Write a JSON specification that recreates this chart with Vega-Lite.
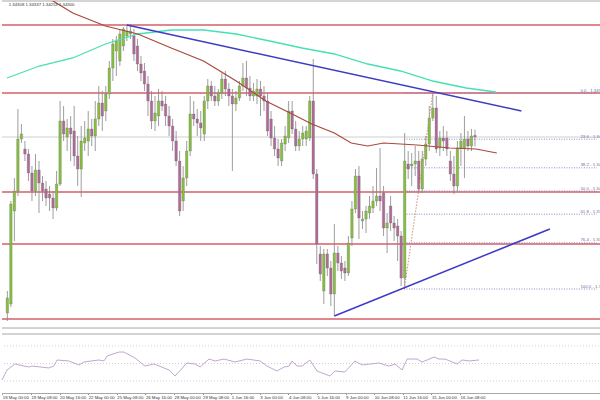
{
"$schema": "https://vega.github.io/schema/vega-lite/v6.json",
"padding": 0,
"spacing": 4,
"background": "white",
"config": {"view": {"stroke": null}, "font": "Liberation Sans"},
"datasets": {
"candles": [
{"i":0,"o":1.3342,"h":1.3353,"l":1.3338,"c":1.33495},
{"i":1,"o":1.33465,"h":1.3398,"l":1.3345,"c":1.33965},
{"i":2,"o":1.3393,"h":1.34095,"l":1.3378,"c":1.3403},
{"i":3,"o":1.3403,"h":1.3444,"l":1.34005,"c":1.3429},
{"i":4,"o":1.3429,"h":1.34365,"l":1.3427,"c":1.34315},
{"i":5,"o":1.3424,"h":1.3428,"l":1.3418,"c":1.34215},
{"i":6,"o":1.34215,"h":1.3424,"l":1.3408,"c":1.3412},
{"i":7,"o":1.3412,"h":1.34155,"l":1.3398,"c":1.3403},
{"i":8,"o":1.3403,"h":1.34215,"l":1.34005,"c":1.34135},
{"i":9,"o":1.34135,"h":1.3418,"l":1.3392,"c":1.3407},
{"i":10,"o":1.3407,"h":1.34105,"l":1.3398,"c":1.3403},
{"i":11,"o":1.3404,"h":1.3408,"l":1.33955,"c":1.33995},
{"i":12,"o":1.34015,"h":1.34055,"l":1.3393,"c":1.33995},
{"i":13,"o":1.33995,"h":1.3403,"l":1.3389,"c":1.33945},
{"i":14,"o":1.33945,"h":1.3413,"l":1.3393,"c":1.34065},
{"i":15,"o":1.34065,"h":1.3448,"l":1.34055,"c":1.3438},
{"i":16,"o":1.3438,"h":1.34455,"l":1.3428,"c":1.34315},
{"i":17,"o":1.343,"h":1.3439,"l":1.3423,"c":1.34345},
{"i":18,"o":1.34345,"h":1.34405,"l":1.3418,"c":1.34315},
{"i":19,"o":1.3433,"h":1.34455,"l":1.34155,"c":1.34205},
{"i":20,"o":1.34205,"h":1.34305,"l":1.34055,"c":1.3414},
{"i":21,"o":1.3414,"h":1.34355,"l":1.34,"c":1.3428},
{"i":22,"o":1.3427,"h":1.3438,"l":1.3423,"c":1.34295},
{"i":23,"o":1.3428,"h":1.3443,"l":1.34205,"c":1.3434},
{"i":24,"o":1.3434,"h":1.3439,"l":1.34255,"c":1.34305},
{"i":25,"o":1.34305,"h":1.3448,"l":1.3423,"c":1.3439},
{"i":26,"o":1.3439,"h":1.34555,"l":1.34355,"c":1.3447},
{"i":27,"o":1.3447,"h":1.3453,"l":1.3433,"c":1.34405},
{"i":28,"o":1.3443,"h":1.34555,"l":1.3438,"c":1.34515},
{"i":29,"o":1.34515,"h":1.3468,"l":1.3449,"c":1.34645},
{"i":30,"o":1.34645,"h":1.3479,"l":1.3458,"c":1.34765},
{"i":31,"o":1.3473,"h":1.34805,"l":1.34605,"c":1.3478},
{"i":32,"o":1.3468,"h":1.3484,"l":1.34655,"c":1.34815},
{"i":33,"o":1.34755,"h":1.3485,"l":1.3473,"c":1.3484},
{"i":34,"o":1.34805,"h":1.3486,"l":1.3478,"c":1.3483},
{"i":35,"o":1.34815,"h":1.34865,"l":1.3479,"c":1.3483},
{"i":36,"o":1.34805,"h":1.3484,"l":1.3468,"c":1.34715},
{"i":37,"o":1.34755,"h":1.3479,"l":1.3463,"c":1.34665},
{"i":38,"o":1.34665,"h":1.34705,"l":1.3458,"c":1.3462},
{"i":39,"o":1.3463,"h":1.3467,"l":1.3453,"c":1.34565},
{"i":40,"o":1.34565,"h":1.34605,"l":1.34405,"c":1.3448},
{"i":41,"o":1.3448,"h":1.3453,"l":1.3434,"c":1.3438},
{"i":42,"o":1.3438,"h":1.34505,"l":1.3433,"c":1.3442},
{"i":43,"o":1.34405,"h":1.3454,"l":1.34355,"c":1.3448},
{"i":44,"o":1.3448,"h":1.3453,"l":1.3443,"c":1.34455},
{"i":45,"o":1.34465,"h":1.34505,"l":1.34355,"c":1.34405},
{"i":46,"o":1.34405,"h":1.34455,"l":1.34305,"c":1.34355},
{"i":47,"o":1.34355,"h":1.3439,"l":1.3423,"c":1.3428},
{"i":48,"o":1.3428,"h":1.3433,"l":1.34155,"c":1.3418},
{"i":49,"o":1.3418,"h":1.3423,"l":1.33905,"c":1.3393},
{"i":50,"o":1.3398,"h":1.34155,"l":1.3393,"c":1.34095},
{"i":51,"o":1.34095,"h":1.3428,"l":1.34055,"c":1.3423},
{"i":52,"o":1.3423,"h":1.34505,"l":1.34205,"c":1.34415},
{"i":53,"o":1.34415,"h":1.3448,"l":1.34355,"c":1.3439},
{"i":54,"o":1.3439,"h":1.3444,"l":1.34305,"c":1.3437},
{"i":55,"o":1.3437,"h":1.3443,"l":1.3428,"c":1.34345},
{"i":56,"o":1.34315,"h":1.34505,"l":1.3428,"c":1.3448},
{"i":57,"o":1.3448,"h":1.3459,"l":1.3444,"c":1.34555},
{"i":58,"o":1.34555,"h":1.3458,"l":1.3448,"c":1.34505},
{"i":59,"o":1.34505,"h":1.34555,"l":1.34455,"c":1.3448},
{"i":60,"o":1.3448,"h":1.3454,"l":1.34455,"c":1.3452},
{"i":61,"o":1.3452,"h":1.3462,"l":1.3449,"c":1.3459},
{"i":62,"o":1.3459,"h":1.3463,"l":1.34505,"c":1.3454},
{"i":63,"o":1.3454,"h":1.3457,"l":1.34455,"c":1.34505},
{"i":64,"o":1.34505,"h":1.3454,"l":1.3413,"c":1.34465},
{"i":65,"o":1.34465,"h":1.3453,"l":1.3443,"c":1.34495},
{"i":66,"o":1.34495,"h":1.3458,"l":1.3448,"c":1.34555},
{"i":67,"o":1.34555,"h":1.3467,"l":1.3453,"c":1.34595},
{"i":68,"o":1.34595,"h":1.3468,"l":1.34505,"c":1.34545},
{"i":69,"o":1.34545,"h":1.34605,"l":1.3448,"c":1.34505},
{"i":70,"o":1.34505,"h":1.3457,"l":1.3448,"c":1.3453},
{"i":71,"o":1.34505,"h":1.3459,"l":1.34465,"c":1.3454},
{"i":72,"o":1.3454,"h":1.3458,"l":1.34405,"c":1.34505},
{"i":73,"o":1.34505,"h":1.34555,"l":1.3443,"c":1.3448},
{"i":74,"o":1.3448,"h":1.3452,"l":1.34305,"c":1.3433},
{"i":75,"o":1.3439,"h":1.3443,"l":1.34255,"c":1.34295},
{"i":76,"o":1.34295,"h":1.34355,"l":1.34205,"c":1.3424},
{"i":77,"o":1.3424,"h":1.3429,"l":1.34155,"c":1.34195},
{"i":78,"o":1.3418,"h":1.3429,"l":1.34155,"c":1.3427},
{"i":79,"o":1.34265,"h":1.34355,"l":1.3423,"c":1.34305},
{"i":80,"o":1.34295,"h":1.3448,"l":1.3427,"c":1.3443},
{"i":81,"o":1.3443,"h":1.3448,"l":1.34315,"c":1.3434},
{"i":82,"o":1.3434,"h":1.3438,"l":1.3423,"c":1.34255},
{"i":83,"o":1.34255,"h":1.3433,"l":1.3423,"c":1.3429},
{"i":84,"o":1.3429,"h":1.34355,"l":1.34255,"c":1.3432},
{"i":85,"o":1.3429,"h":1.34355,"l":1.34255,"c":1.3433},
{"i":86,"o":1.34295,"h":1.34505,"l":1.3428,"c":1.3448},
{"i":87,"o":1.3448,"h":1.3469,"l":1.3409,"c":1.34115},
{"i":88,"o":1.34115,"h":1.3414,"l":1.33665,"c":1.33765},
{"i":89,"o":1.33715,"h":1.33755,"l":1.3358,"c":1.33615},
{"i":90,"o":1.3353,"h":1.3374,"l":1.33465,"c":1.33715},
{"i":91,"o":1.33715,"h":1.3374,"l":1.33605,"c":1.33645},
{"i":92,"o":1.33645,"h":1.3368,"l":1.33455,"c":1.33515},
{"i":93,"o":1.33515,"h":1.33865,"l":1.33405,"c":1.3372},
{"i":94,"o":1.3372,"h":1.33755,"l":1.3363,"c":1.3367},
{"i":95,"o":1.3367,"h":1.33705,"l":1.3359,"c":1.3363},
{"i":96,"o":1.33645,"h":1.3368,"l":1.3358,"c":1.3362},
{"i":97,"o":1.3362,"h":1.33805,"l":1.33605,"c":1.3377},
{"i":98,"o":1.33795,"h":1.3398,"l":1.33755,"c":1.3394},
{"i":99,"o":1.3394,"h":1.3414,"l":1.3392,"c":1.34105},
{"i":100,"o":1.34105,"h":1.34155,"l":1.3379,"c":1.33895},
{"i":101,"o":1.3388,"h":1.3393,"l":1.3384,"c":1.3389},
{"i":102,"o":1.3389,"h":1.33955,"l":1.3382,"c":1.3393},
{"i":103,"o":1.3392,"h":1.34005,"l":1.3389,"c":1.33955},
{"i":104,"o":1.33945,"h":1.34055,"l":1.3392,"c":1.3398},
{"i":105,"o":1.3398,"h":1.34145,"l":1.33955,"c":1.34005},
{"i":106,"o":1.34005,"h":1.34245,"l":1.3393,"c":1.3398},
{"i":107,"o":1.3402,"h":1.34055,"l":1.33805,"c":1.33845},
{"i":108,"o":1.33845,"h":1.3392,"l":1.3372,"c":1.3387},
{"i":109,"o":1.33955,"h":1.34005,"l":1.3383,"c":1.3387},
{"i":110,"o":1.3387,"h":1.33905,"l":1.3378,"c":1.33845},
{"i":111,"o":1.33855,"h":1.3389,"l":1.3368,"c":1.33805},
{"i":112,"o":1.33805,"h":1.3383,"l":1.33555,"c":1.33595},
{"i":113,"o":1.33595,"h":1.3432,"l":1.3354,"c":1.3418},
{"i":114,"o":1.34165,"h":1.3423,"l":1.3409,"c":1.3414},
{"i":115,"o":1.34155,"h":1.3422,"l":1.34055,"c":1.34165},
{"i":116,"o":1.34165,"h":1.34255,"l":1.34105,"c":1.3418},
{"i":117,"o":1.3418,"h":1.3423,"l":1.3402,"c":1.3404},
{"i":118,"o":1.3404,"h":1.3423,"l":1.3402,"c":1.3419},
{"i":119,"o":1.3419,"h":1.34305,"l":1.34155,"c":1.34265},
{"i":120,"o":1.34265,"h":1.34455,"l":1.3423,"c":1.34395},
{"i":121,"o":1.34395,"h":1.3452,"l":1.3438,"c":1.34445},
{"i":122,"o":1.34445,"h":1.34505,"l":1.3422,"c":1.3424},
{"i":123,"o":1.34245,"h":1.3433,"l":1.34205,"c":1.34295},
{"i":124,"o":1.34295,"h":1.34355,"l":1.3423,"c":1.3428},
{"i":125,"o":1.34295,"h":1.3433,"l":1.34205,"c":1.3424},
{"i":126,"o":1.3418,"h":1.3423,"l":1.3408,"c":1.34115},
{"i":127,"o":1.34115,"h":1.34205,"l":1.34015,"c":1.34055},
{"i":128,"o":1.34055,"h":1.3428,"l":1.3403,"c":1.34245},
{"i":129,"o":1.34245,"h":1.3432,"l":1.34155,"c":1.3428},
{"i":130,"o":1.34245,"h":1.34405,"l":1.34095,"c":1.3429},
{"i":131,"o":1.3429,"h":1.3433,"l":1.3423,"c":1.34255},
{"i":132,"o":1.34255,"h":1.3434,"l":1.3423,"c":1.34305},
{"i":133,"o":1.34308,"h":1.34337,"l":1.34253,"c":1.343}
],
"teal": [
{"i":-0.1,"p":1.34595},{"i":9.1,"p":1.34655},{"i":18.6,"p":1.34695},{"i":27.9,"p":1.34765},{"i":37.1,"p":1.34815},{"i":46.6,"p":1.34835},{"i":55.8,"p":1.34835},{"i":65.1,"p":1.34815},{"i":74.6,"p":1.3478},{"i":83.8,"p":1.34745},{"i":93,"p":1.34715},{"i":102.5,"p":1.34665},{"i":111.8,"p":1.3463},{"i":121,"p":1.3458},{"i":130.5,"p":1.34545},{"i":138.9,"p":1.34525}
],
"brown": [
{"i":-0.1,"p":1.3508},{"i":13,"p":1.3498},{"i":18.6,"p":1.3492},{"i":27.9,"p":1.34855},{"i":37.1,"p":1.34815},{"i":46.6,"p":1.34745},{"i":55.8,"p":1.3468},{"i":65.1,"p":1.3458},{"i":73.5,"p":1.3448},{"i":81,"p":1.34415},{"i":86.6,"p":1.34365},{"i":93,"p":1.3432},{"i":97.8,"p":1.3427},{"i":102.5,"p":1.34255},{"i":107,"p":1.3427},{"i":111.8,"p":1.34265},{"i":116.5,"p":1.3426},{"i":125.8,"p":1.34245},{"i":133.3,"p":1.3424},{"i":139.2,"p":1.3422}
],
"trend": [
{"t":"upper","i":34,"p":1.3486},{"t":"upper","i":146.2,"p":1.3443},
{"t":"lower","i":93,"p":1.33405},{"t":"lower","i":154.3,"p":1.3384}
],
"fib": [
{"lvl":"0.0","p":1.3452,"label":"0.0 - 1.34520"},
{"lvl":"23.6","p":1.34289,"label":"23.6 - 1.34289"},
{"lvl":"38.2","p":1.34146,"label":"38.2 - 1.34146"},
{"lvl":"50.0","p":1.3403,"label":"50.0 - 1.34030"},
{"lvl":"61.8","p":1.33914,"label":"61.8 - 1.33914"},
{"lvl":"76.4","p":1.33771,"label":"76.4 - 1.33771"},
{"lvl":"100.0","p":1.3354,"label":"100.0 - 1.33540"}
],
"rsi": [
{"i":-0.1,"v":31.1},{"i":1.3,"v":42.6},{"i":3.5,"v":49.4},{"i":7.4,"v":46},{"i":8.3,"v":47.1},{"i":13,"v":44.9},{"i":14.4,"v":47.1},{"i":15.3,"v":54},{"i":18.6,"v":52.9},{"i":21.4,"v":48.3},{"i":22.8,"v":51.7},{"i":27,"v":54},{"i":28.4,"v":52.9},{"i":29.3,"v":58.6},{"i":32.6,"v":63.1},{"i":34,"v":63.1},{"i":37.1,"v":56.3},{"i":39.9,"v":47.1},{"i":42.4,"v":49.4},{"i":46.6,"v":42.6},{"i":48.3,"v":35.7},{"i":51.6,"v":50.6},{"i":53.9,"v":49.4},{"i":55.3,"v":46},{"i":57.8,"v":55.1},{"i":59.5,"v":52.9},{"i":62,"v":55.1},{"i":65.1,"v":51.7},{"i":68.4,"v":55.1},{"i":72.1,"v":52.9},{"i":74,"v":47.1},{"i":76.8,"v":41.4},{"i":78.8,"v":46},{"i":80.2,"v":47.1},{"i":81,"v":52.9},{"i":82.4,"v":47.1},{"i":83.8,"v":47.1},{"i":86,"v":54},{"i":88,"v":41.4},{"i":90.2,"v":38},{"i":91.6,"v":35.7},{"i":93,"v":41.4},{"i":95.8,"v":40.3},{"i":98.6,"v":52.9},{"i":100.6,"v":48.3},{"i":105.3,"v":50.6},{"i":108.1,"v":47.1},{"i":109.8,"v":49.4},{"i":111.8,"v":42.6},{"i":113.2,"v":55.1},{"i":116,"v":55.1},{"i":117.4,"v":51.7},{"i":118.8,"v":54},{"i":120.7,"v":57.4},{"i":122.1,"v":55.1},{"i":123.8,"v":55.1},{"i":127.2,"v":49.4},{"i":128.6,"v":54},{"i":130.5,"v":52.9},{"i":133.3,"v":54}
]
},
"vconcat": [
{
"width": 600, "height": 327,
"layer": [
{"data": {"values": [{"p":1.3498},{"p":1.33345}]},
 "mark": {"type":"rule","color":"#a8a8a8","strokeWidth":1},
 "encoding": {"y": {"field":"p","type":"quantitative","scale":{"domain":[1.33345,1.3498],"zero":false,"nice":false},"axis":null}}},
{"data": {"values": [{"p":1.343}]},
 "mark": {"type":"rule","color":"#cfcfcf","strokeWidth":1},
 "encoding": {"y": {"field":"p","type":"quantitative","scale":{"domain":[1.33345,1.3498],"zero":false,"nice":false},"axis":null}}},
{"data": {"values": [{"p":1.3486},{"p":1.3452},{"p":1.34025},{"p":1.33765},{"p":1.3339}]},
 "mark": {"type":"rule","color":"#d65f68","strokeWidth":1.3},
 "encoding": {"y": {"field":"p","type":"quantitative","scale":{"domain":[1.33345,1.3498],"zero":false,"nice":false},"axis":null}}},
{"data": {"name":"fib"},
 "mark": {"type":"rule","color":"#8080b8","strokeWidth":0.9,"strokeDash":[1,1.5]},
 "encoding": {
  "x": {"datum":112.8,"type":"quantitative","scale":{"domain":[-0.1,167.7],"zero":false,"nice":false},"axis":null},
  "x2": {"datum":167.7},
  "y": {"field":"p","type":"quantitative","scale":{"domain":[1.33345,1.3498],"zero":false,"nice":false},"axis":null}}},
{"data": {"name":"fib"},
 "mark": {"type":"text","color":"#6a6aaa","fontSize":4.3,"align":"left","baseline":"bottom","dy":-0.5,"clip":true},
 "encoding": {
  "x": {"datum":163,"type":"quantitative","scale":{"domain":[-0.1,167.7],"zero":false,"nice":false},"axis":null},
  "y": {"field":"p","type":"quantitative","scale":{"domain":[1.33345,1.3498],"zero":false,"nice":false},"axis":null},
  "text": {"field":"label"}}},
{"data": {"name":"candles"},
 "mark": {"type":"rule","color":"#858585","strokeWidth":0.8},
 "encoding": {
  "x": {"field":"i","type":"quantitative","scale":{"domain":[-0.1,167.7],"zero":false,"nice":false},"axis":null},
  "y": {"field":"l","type":"quantitative","scale":{"domain":[1.33345,1.3498],"zero":false,"nice":false},"axis":null},
  "y2": {"field":"h"}}},
{"data": {"name":"candles"},
 "mark": {"type":"bar","size":2.5,"stroke":"#6a6a6a","strokeWidth":0.3},
 "encoding": {
  "x": {"field":"i","type":"quantitative","scale":{"domain":[-0.1,167.7],"zero":false,"nice":false},"axis":null},
  "y": {"field":"o","type":"quantitative","scale":{"domain":[1.33345,1.3498],"zero":false,"nice":false},"axis":null},
  "y2": {"field":"c"},
  "color": {"condition": {"test":"datum.c >= datum.o","value":"#86bf3e"},"value":"#b06a98"}}},
{"data": {"values": [{"i":112.9,"p":1.3354},{"i":121,"p":1.3452}]},
 "mark": {"type":"line","color":"#c9907f","strokeWidth":1,"strokeDash":[1.5,1.5]},
 "encoding": {
  "x": {"field":"i","type":"quantitative","scale":{"domain":[-0.1,167.7],"zero":false,"nice":false},"axis":null},
  "y": {"field":"p","type":"quantitative","scale":{"domain":[1.33345,1.3498],"zero":false,"nice":false},"axis":null}}},
{"data": {"name":"teal"},
 "mark": {"type":"line","color":"#45e0b4","strokeWidth":1.3,"clip":true},
 "encoding": {
  "x": {"field":"i","type":"quantitative","scale":{"domain":[-0.1,167.7],"zero":false,"nice":false},"axis":null},
  "y": {"field":"p","type":"quantitative","scale":{"domain":[1.33345,1.3498],"zero":false,"nice":false},"axis":null}}},
{"data": {"name":"brown"},
 "mark": {"type":"line","color":"#a8483c","strokeWidth":1.2,"clip":true},
 "encoding": {
  "x": {"field":"i","type":"quantitative","scale":{"domain":[-0.1,167.7],"zero":false,"nice":false},"axis":null},
  "y": {"field":"p","type":"quantitative","scale":{"domain":[1.33345,1.3498],"zero":false,"nice":false},"axis":null}}},
{"data": {"name":"trend"},
 "mark": {"type":"line","color":"#3b3bc4","strokeWidth":1.5},
 "encoding": {
  "x": {"field":"i","type":"quantitative","scale":{"domain":[-0.1,167.7],"zero":false,"nice":false},"axis":null},
  "y": {"field":"p","type":"quantitative","scale":{"domain":[1.33345,1.3498],"zero":false,"nice":false},"axis":null},
  "detail": {"field":"t"}}},
{"data": {"values": [{"txt":"1.34308 1.34337 1.34253 1.34300"}]},
 "mark": {"type":"text","color":"#333333","fontSize":4.3,"align":"left","baseline":"top"},
 "encoding": {
  "x": {"datum":0.4,"type":"quantitative","scale":{"domain":[-0.1,167.7],"zero":false,"nice":false},"axis":null},
  "y": {"datum":1.3497,"type":"quantitative","scale":{"domain":[1.33345,1.3498],"zero":false,"nice":false},"axis":null},
  "text": {"field":"txt"}}}
]
},
{
"width": 600, "height": 59,
"layer": [
{"data": {"values": [{"v":30},{"v":50},{"v":70}]},
 "mark": {"type":"rule","color":"#c4c4c4","strokeWidth":0.8,"strokeDash":[1,2]},
 "encoding": {"y": {"field":"v","type":"quantitative","scale":{"domain":[16.3,83.7],"zero":false,"nice":false},"axis":null}}},
{"data": {"values": [{"v":83.7}]},
 "mark": {"type":"rule","color":"#a8a8a8","strokeWidth":1},
 "encoding": {"y": {"field":"v","type":"quantitative","scale":{"domain":[16.3,83.7],"zero":false,"nice":false},"axis":null}}},
{"data": {"name":"rsi"},
 "mark": {"type":"line","color":"#b89dcc","strokeWidth":0.9},
 "encoding": {
  "x": {"field":"i","type":"quantitative","scale":{"domain":[-0.1,167.7],"zero":false,"nice":false},
   "axis": {"title":null,"grid":false,"values":[0,8,16,24,32,40,48,56,64,72,80,88,96,104,112,120,128],
    "labelExpr":"['18 May 00:00','19 May 08:00','20 May 16:00','22 May 00:00','25 May 08:00','26 May 16:00','28 May 00:00','29 May 08:00','1 Jun 16:00','3 Jun 00:00','4 Jun 08:00','5 Jun 16:00','9 Jun 00:00','10 Jun 08:00','11 Jun 16:00','15 Jun 00:00','16 Jun 08:00'][round(datum.value/8)]",
    "labelAlign":"left","labelFontSize":4.3,"labelColor":"#333333","labelPadding":0.5,"labelOverlap":false,"labelFlush":false,
    "tickSize":1.5,"tickColor":"#909090","domainColor":"#a8a8a8"}},
  "y": {"field":"v","type":"quantitative","scale":{"domain":[16.3,83.7],"zero":false,"nice":false},"axis":null}}}
]
}
]
}
